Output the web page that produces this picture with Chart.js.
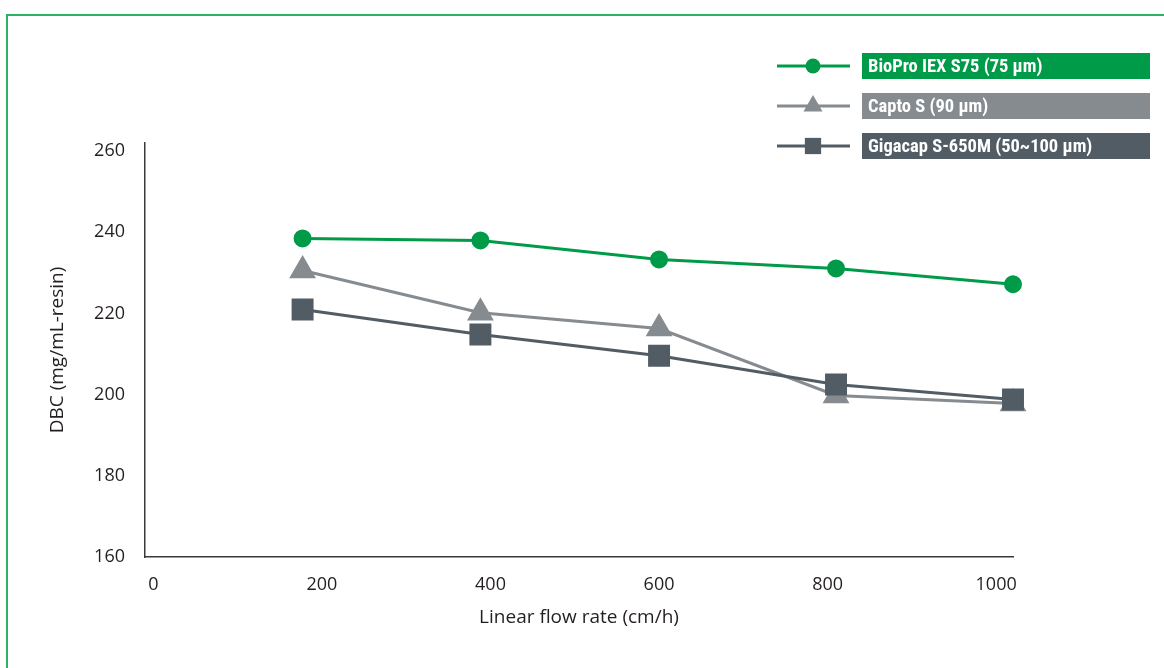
<!DOCTYPE html>
<html>
<head>
<meta charset="utf-8">
<script src="https://cdn.jsdelivr.net/npm/chart.js@4.4.1/dist/chart.umd.min.js"></script>
<style>
  html, body { margin: 0; padding: 0; background: #fff; overflow: hidden; }
  #frame { position: absolute; left: 6px; top: 14px; width: 1200px; height: 700px; border: 2px solid #2db366; box-sizing: border-box; }
  #wrap { position: absolute; left: 0; top: 0; width: 1164px; height: 668px; }
</style>
</head>
<body>
<div id="frame"></div>
<div id="wrap"><canvas id="lineChart" width="1164" height="668"></canvas></div>
<script>
// flow rates (cm/h) and DBC values
const flowRates = [177, 388, 600, 810, 1020]
const bioproValues = [238.5, 238.0, 233.3, 231.1, 227.2]
const captoValues = [230.6, 220.2, 216.3, 199.8, 197.8]
const gigacapValues = [221.0, 214.8, 209.6, 202.5, 198.8]
const xTicks = [0, 200, 400, 600, 800, 1000]
const yTicks = [160, 180, 200, 220, 240, 260]
const seriesNames = ['BioPro IEX S75 (75 µm)', 'Capto S (90 µm)', 'Gigacap S-650M (50~100 µm)']

const green = '#009b48'
const grey = '#868b90'
const slate = '#525c64'

function pts(values) {
    return values.map((v, i) => ({x: flowRates[i], y: v}))
}

// legend drawn on the canvas: line + marker, then a coloured label box
const boxLegend = {
    id: 'boxLegend',
    afterDraw(chart) {
        const ctx = chart.ctx
        chart.data.datasets.forEach((ds, i) => {
            const cy = 66 + 40 * i
            ctx.save()
            ctx.strokeStyle = ds.borderColor
            ctx.lineWidth = 3
            ctx.beginPath()
            ctx.moveTo(777, cy)
            ctx.lineTo(850, cy)
            ctx.stroke()
            ctx.fillStyle = ds.borderColor
            Chart.helpers.drawPoint(ctx, {
                pointStyle: ds.pointStyle,
                radius: ds.legendRadius,
                borderWidth: 0
            }, 813, cy)
            ctx.fillStyle = ds.borderColor
            ctx.fillRect(862, cy - 13, 288, 26)
            ctx.fillStyle = '#fff'
            ctx.font = 'bold 18.5px "Liberation Sans Narrow", "Roboto Condensed", Roboto, sans-serif'
            ctx.textBaseline = 'middle'
            ctx.textAlign = 'left'
            ctx.fillText(ds.label, 868, cy + 1)
            ctx.restore()
        })
    }
}

new Chart(
    document.getElementById('lineChart'), {
        type: 'line',
        data: {
            datasets: [
                {
                    label: seriesNames[0],
                    data: pts(bioproValues),
                    borderColor: green,
                    backgroundColor: green,
                    borderWidth: 3,
                    pointStyle: 'circle',
                    pointRadius: 7.5,
                    legendRadius: 7.5,
                    clip: false,
                    order: 1
                },
                {
                    label: seriesNames[1],
                    data: pts(captoValues),
                    borderColor: grey,
                    backgroundColor: grey,
                    borderWidth: 3,
                    pointStyle: 'triangle',
                    pointRadius: 12.5,
                    legendRadius: 11,
                    clip: false,
                    order: 3
                },
                {
                    label: seriesNames[2],
                    data: pts(gigacapValues),
                    borderColor: slate,
                    backgroundColor: slate,
                    borderWidth: 3,
                    pointStyle: 'rect',
                    pointRadius: 13.4,
                    legendRadius: 11.5,
                    clip: false,
                    order: 2
                }
            ]
        },
        options: {
            responsive: false,
            animation: false,
            layout: {padding: {left: 0, top: 143, right: 151, bottom: 0}},
            plugins: {
                legend: {display: false},
                tooltip: {enabled: false}
            },
            elements: {
                line: {tension: 0},
                point: {borderWidth: 0, hoverRadius: 0}
            },
            scales: {
                x: {
                    type: 'linear',
                    min: -10,
                    max: 1020,
                    afterBuildTicks: (scale) => { scale.ticks = xTicks.map(v => ({value: v})) },
                    afterFit: (scale) => { scale.height = 111 },
                    border: {display: true, color: '#3a3a3a', width: 1.5},
                    grid: {display: false, drawTicks: false},
                    ticks: {
                        color: '#231f20',
                        padding: 17,
                        maxRotation: 0,
                        callback: (v) => String(v),
                        font: {family: '"Open Sans", sans-serif', size: 18}
                    },
                    title: {
                        display: true,
                        text: 'Linear flow rate (cm/h)',
                        color: '#231f20',
                        padding: {top: 0, bottom: 39},
                        font: {family: '"Open Sans", sans-serif', size: 19}
                    }
                },
                y: {
                    min: 160,
                    max: 262,
                    afterBuildTicks: (scale) => { scale.ticks = yTicks.map(v => ({value: v})) },
                    afterFit: (scale) => { scale.width = 145 },
                    border: {display: true, color: '#3a3a3a', width: 1.5},
                    grid: {display: false, drawTicks: false},
                    ticks: {
                        color: '#231f20',
                        padding: 20,
                        font: {family: '"Open Sans", sans-serif', size: 18}
                    },
                    title: {
                        display: true,
                        text: 'DBC (mg/mL-resin)',
                        color: '#231f20',
                        padding: {top: 46, bottom: 0},
                        font: {family: '"Open Sans", sans-serif', size: 19}
                    }
                }
            }
        },
        plugins: [boxLegend]
    }
)
</script>
</body>
</html>
